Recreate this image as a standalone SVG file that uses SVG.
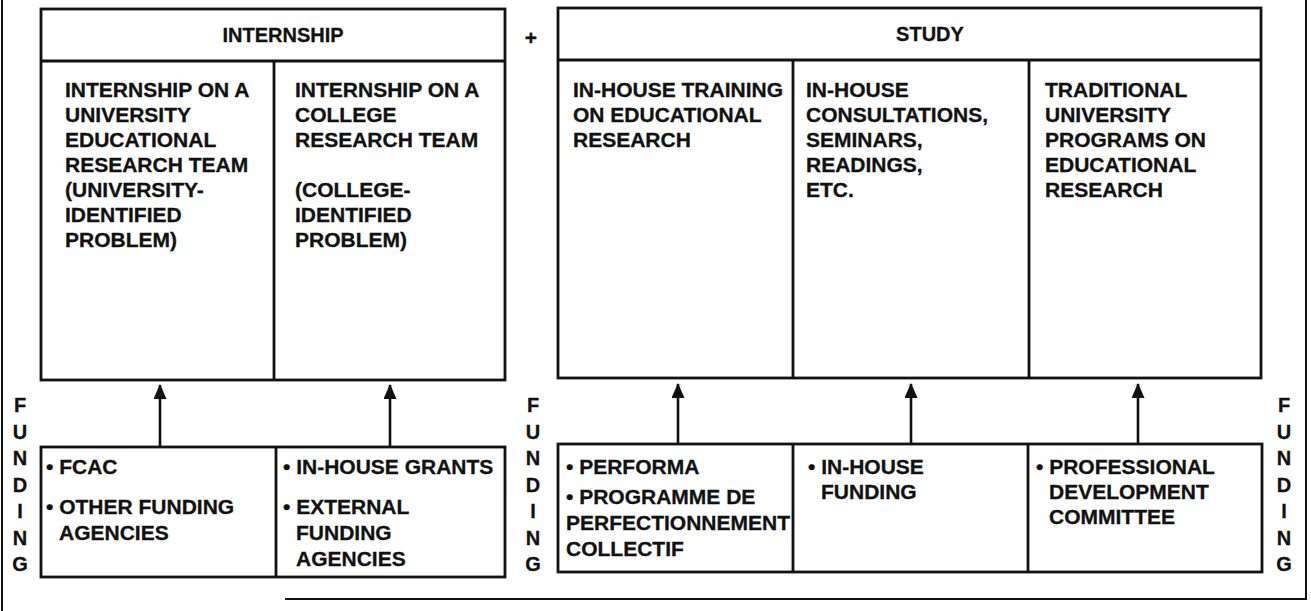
<svg xmlns="http://www.w3.org/2000/svg" width="1311" height="611" viewBox="0 0 1311 611">
  <defs>
    <style>
      .t { font-family: "Liberation Sans", Arial, Helvetica, sans-serif; font-weight: bold; fill: #111; font-size: 21px; stroke: #111; stroke-width: 0.3; }
      .h { font-size: 20px; text-anchor: middle; }
      .f { font-size: 20px; text-anchor: middle; }
      .box { fill: none; stroke: #111; stroke-width: 2.8; }
      .frame { fill: none; stroke: #111; stroke-width: 2; }
      .conn { stroke: #111; stroke-width: 2.6; fill: none; }
    </style>
    <marker id="arrow" viewBox="0 0 15 13" refX="14" refY="6.5" markerWidth="15" markerHeight="13" markerUnits="userSpaceOnUse" orient="auto">
      <path d="M0,0 L15,6.5 L0,13 Z" fill="#111"/>
    </marker>
  </defs>
  <rect width="1311" height="611" fill="#fff"/>

  <g id="frame">
    <path class="frame" d="M2,0 V611 M285,599 H1306 V0"/>
  </g>

  <g id="internship">
    <rect class="box" x="41" y="9" width="464" height="371"/>
    <line class="box" x1="41" y1="61" x2="505" y2="61"/>
    <line class="box" x1="274" y1="61" x2="274" y2="380"/>
    <text class="t h" x="283" y="42">INTERNSHIP</text>
  </g>
  <g id="internship-university">
    <text class="t" x="65" y="96.5">INTERNSHIP ON A<tspan x="65" dy="25">UNIVERSITY</tspan><tspan x="65" dy="25">EDUCATIONAL</tspan><tspan x="65" dy="25">RESEARCH TEAM</tspan><tspan x="65" dy="25">(UNIVERSITY-</tspan><tspan x="65" dy="25">IDENTIFIED</tspan><tspan x="65" dy="25">PROBLEM)</tspan></text>
  </g>
  <g id="internship-college">
    <text class="t" x="295" y="96.5">INTERNSHIP ON A<tspan x="295" dy="25">COLLEGE</tspan><tspan x="295" dy="25">RESEARCH TEAM</tspan><tspan x="295" dy="50">(COLLEGE-</tspan><tspan x="295" dy="25">IDENTIFIED</tspan><tspan x="295" dy="25">PROBLEM)</tspan></text>
  </g>

  <g id="plus">
    <text class="t" x="531" y="45" text-anchor="middle" font-size="28">+</text>
  </g>

  <g id="study">
    <rect class="box" x="558" y="8" width="703" height="370"/>
    <line class="box" x1="558" y1="60" x2="1261" y2="60"/>
    <line class="box" x1="793" y1="60" x2="793" y2="378"/>
    <line class="box" x1="1029" y1="60" x2="1029" y2="378"/>
    <text class="t h" x="930" y="41">STUDY</text>
  </g>
  <g id="study-training">
    <text class="t" x="573" y="96.5">IN-HOUSE TRAINING<tspan x="573" dy="25">ON EDUCATIONAL</tspan><tspan x="573" dy="25">RESEARCH</tspan></text>
  </g>
  <g id="study-consultations">
    <text class="t" x="806" y="96.5">IN-HOUSE<tspan x="806" dy="25">CONSULTATIONS,</tspan><tspan x="806" dy="25">SEMINARS,</tspan><tspan x="806" dy="25">READINGS,</tspan><tspan x="806" dy="25">ETC.</tspan></text>
  </g>
  <g id="study-traditional">
    <text class="t" x="1045" y="96.5">TRADITIONAL<tspan x="1045" dy="25">UNIVERSITY</tspan><tspan x="1045" dy="25">PROGRAMS ON</tspan><tspan x="1045" dy="25">EDUCATIONAL</tspan><tspan x="1045" dy="25">RESEARCH</tspan></text>
  </g>

  <g id="funding-left">
    <text class="t f" x="20" y="412">F<tspan x="20" dy="26.5">U</tspan><tspan x="20" dy="26.5">N</tspan><tspan x="20" dy="26.5">D</tspan><tspan x="20" dy="26.5">I</tspan><tspan x="20" dy="26.5">N</tspan><tspan x="20" dy="26.5">G</tspan></text>
  </g>
  <g id="funding-middle">
    <text class="t f" x="533" y="412">F<tspan x="533" dy="26.5">U</tspan><tspan x="533" dy="26.5">N</tspan><tspan x="533" dy="26.5">D</tspan><tspan x="533" dy="26.5">I</tspan><tspan x="533" dy="26.5">N</tspan><tspan x="533" dy="26.5">G</tspan></text>
  </g>
  <g id="funding-right">
    <text class="t f" x="1284" y="412">F<tspan x="1284" dy="26.5">U</tspan><tspan x="1284" dy="26.5">N</tspan><tspan x="1284" dy="26.5">D</tspan><tspan x="1284" dy="26.5">I</tspan><tspan x="1284" dy="26.5">N</tspan><tspan x="1284" dy="26.5">G</tspan></text>
  </g>

  <g id="fund-internship">
    <rect class="box" x="41" y="447" width="464" height="130"/>
    <line class="box" x1="276" y1="447" x2="276" y2="577"/>
  </g>
  <g id="fund-fcac">
    <text class="t" x="46" y="473.5">• FCAC</text>
    <text class="t" x="46" y="513.5">• OTHER FUNDING<tspan x="59" dy="26">AGENCIES</tspan></text>
  </g>
  <g id="fund-inhouse-grants">
    <text class="t" x="283" y="473.5">• IN-HOUSE GRANTS</text>
    <text class="t" x="283" y="513.5">• EXTERNAL<tspan x="296" dy="26">FUNDING</tspan><tspan x="296" dy="26">AGENCIES</tspan></text>
  </g>

  <g id="fund-study">
    <rect class="box" x="558" y="444" width="704" height="128"/>
    <line class="box" x1="793" y1="444" x2="793" y2="572"/>
    <line class="box" x1="1028" y1="444" x2="1028" y2="572"/>
  </g>
  <g id="fund-performa">
    <text class="t" x="566" y="473.5">• PERFORMA</text>
    <text class="t" x="566" y="503.5">• PROGRAMME DE<tspan x="566" dy="26">PERFECTIONNEMENT</tspan><tspan x="566" dy="26">COLLECTIF</tspan></text>
  </g>
  <g id="fund-inhouse">
    <text class="t" x="808" y="473.5">• IN-HOUSE<tspan x="821" dy="25">FUNDING</tspan></text>
  </g>
  <g id="fund-pdc">
    <text class="t" x="1036" y="473.5">• PROFESSIONAL<tspan x="1049" dy="25">DEVELOPMENT</tspan><tspan x="1049" dy="25">COMMITTEE</tspan></text>
  </g>

  <g id="connectors">
    <line class="conn" x1="160" y1="447" x2="160" y2="385" marker-end="url(#arrow)"/>
    <line class="conn" x1="390" y1="447" x2="390" y2="385" marker-end="url(#arrow)"/>
    <line class="conn" x1="678" y1="444" x2="678" y2="384" marker-end="url(#arrow)"/>
    <line class="conn" x1="911" y1="444" x2="911" y2="384" marker-end="url(#arrow)"/>
    <line class="conn" x1="1138" y1="444" x2="1138" y2="384" marker-end="url(#arrow)"/>
  </g>
</svg>
